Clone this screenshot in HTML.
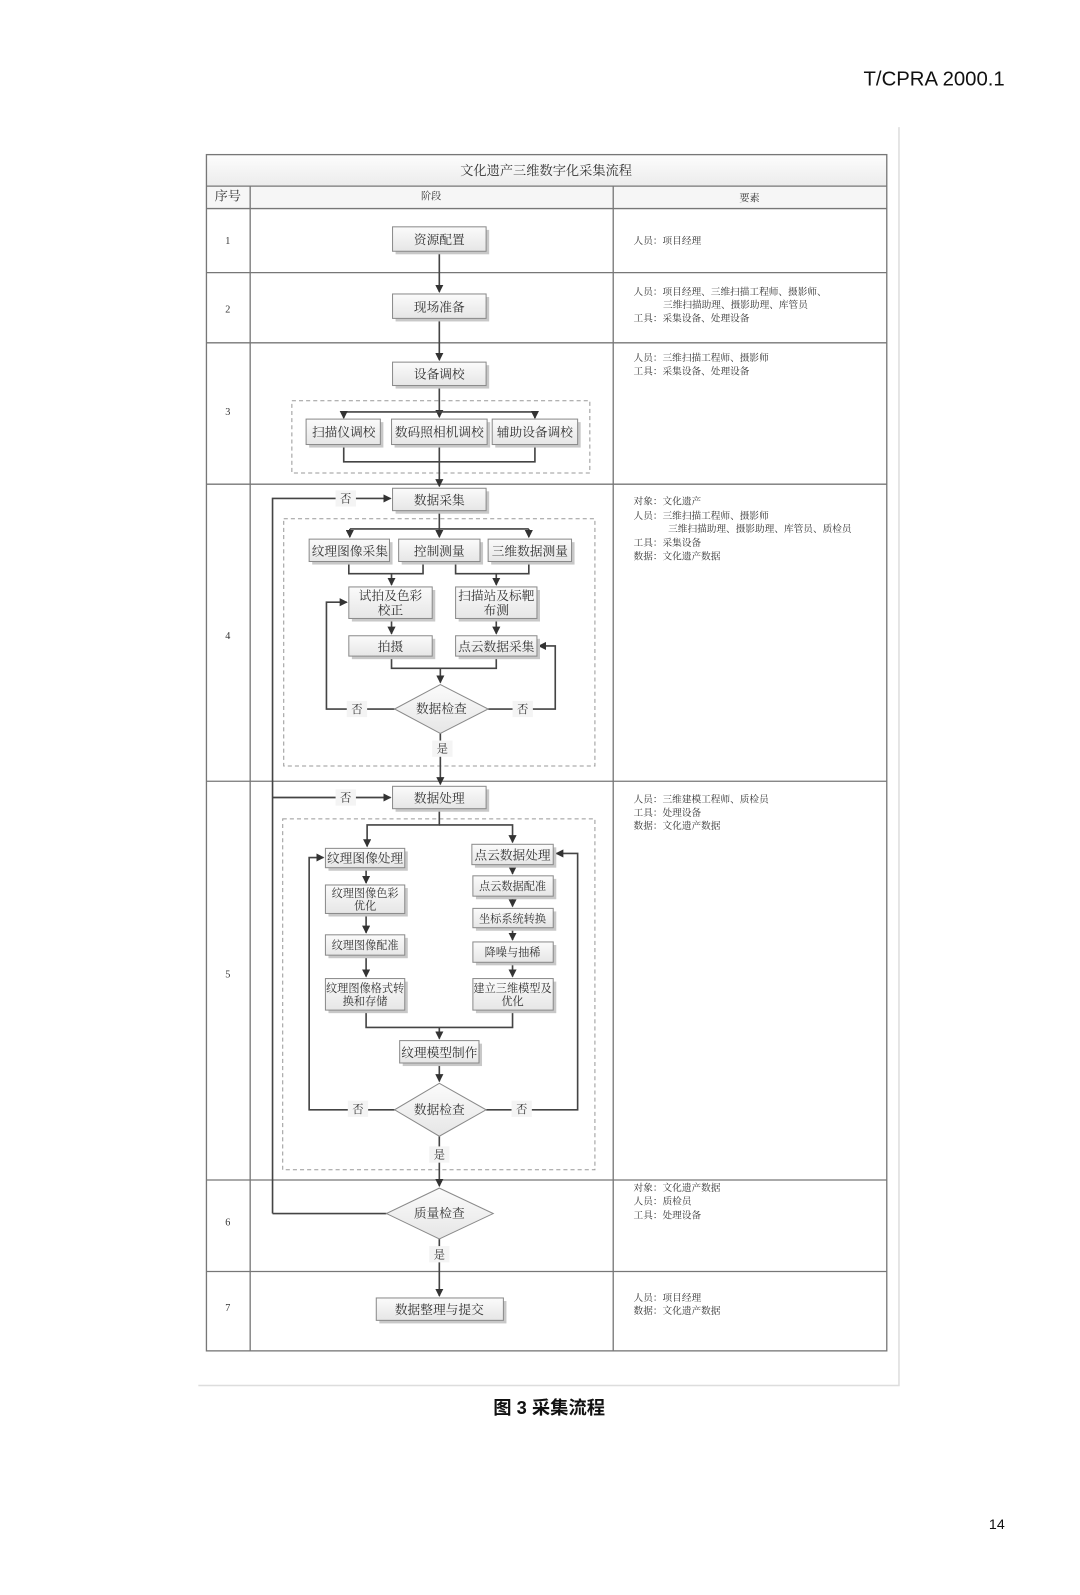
<!DOCTYPE html>
<html><head><meta charset="utf-8"><style>
html,body{margin:0;padding:0;background:#fff;}
svg{display:block;}
text{font-family:"Liberation Serif","Noto Serif CJK SC",serif;fill:#333;}
.b{fill:url(#g);stroke:#8a8a8a;stroke-width:1;}
.sh{fill:#c8c8c8;}
.l{stroke:#444;stroke-width:1.6;fill:none;}
.t{stroke:#777;stroke-width:1.3;fill:none;}
.d{stroke:#999;stroke-width:1;fill:none;stroke-dasharray:4,3;}
.bt{font-size:12.5px;text-anchor:middle;}
.st{font-size:11px;text-anchor:middle;}
.r{font-size:9.5px;fill:#555;}
.lab{fill:#f4f4f4;}
</style></head><body>
<svg width="1080" height="1595" viewBox="0 0 1062 1568" preserveAspectRatio="none" xmlns="http://www.w3.org/2000/svg">
<defs>
<linearGradient id="g" x1="0" y1="0" x2="0" y2="1"><stop offset="0" stop-color="#fbfbfb"/><stop offset="1" stop-color="#e6e6e6"/></linearGradient>
<linearGradient id="hg" x1="0" y1="0" x2="0" y2="1"><stop offset="0" stop-color="#fdfdfd"/><stop offset="1" stop-color="#ececec"/></linearGradient>
<marker id="a" markerWidth="8" markerHeight="8" refX="7" refY="4" orient="auto" markerUnits="userSpaceOnUse"><path d="M0,0 L8,4 L0,8 z" fill="#333"/></marker>
</defs>
<rect width="1062" height="1568" fill="#fff"/>
<text x="988" y="84" text-anchor="end" style="font-family:'Liberation Sans',sans-serif;font-size:20px;fill:#111">T/CPRA 2000.1</text>
<!-- frame -->
<path d="M884 125 V1362 H195" stroke="#ddd" stroke-width="1.5" fill="none"/>
<!-- table -->
<rect x="203" y="152" width="669" height="31" fill="url(#hg)"/>
<rect x="203" y="183" width="669" height="22" fill="#f6f6f6"/>
<rect x="203" y="152" width="669" height="1176" class="t"/>
<path class="t" d="M203 183 H872 M203 205 H872 M203 268 H872 M203 337 H872 M203 476 H872 M203 768 H872 M203 1160 H872 M203 1250 H872 M246 183 V1328 M603 183 V1328"/>
<text x="537" y="172" style="font-size:13px" text-anchor="middle">文化遗产三维数字化采集流程</text>
<text x="224" y="197" style="font-size:13px" text-anchor="middle">序号</text>
<text x="424" y="196" style="font-size:10px" text-anchor="middle">阶段</text>
<text x="737" y="198" style="font-size:10px" text-anchor="middle">要素</text>
<g style="font-size:10px" text-anchor="middle">
<text x="224" y="240">1</text><text x="224" y="307">2</text><text x="224" y="408">3</text><text x="224" y="628">4</text><text x="224" y="961">5</text><text x="224" y="1205">6</text><text x="224" y="1289">7</text>
</g>
<!-- right column -->
<g class="r">
<text x="623" y="240">人员：项目经理</text>
<text x="623" y="290">人员：项目经理、三维扫描工程师、摄影师、</text>
<text x="652" y="303">三维扫描助理、摄影助理、库管员</text>
<text x="623" y="316">工具：采集设备、处理设备</text>
<text x="623" y="355">人员：三维扫描工程师、摄影师</text>
<text x="623" y="368">工具：采集设备、处理设备</text>
<text x="623" y="496">对象：文化遗产</text>
<text x="623" y="510">人员：三维扫描工程师、摄影师</text>
<text x="657" y="523">三维扫描助理、摄影助理、库管员、质检员</text>
<text x="623" y="537">工具：采集设备</text>
<text x="623" y="550">数据：文化遗产数据</text>
<text x="623" y="789">人员：三维建模工程师、质检员</text>
<text x="623" y="802">工具：处理设备</text>
<text x="623" y="815">数据：文化遗产数据</text>
<text x="623" y="1171">对象：文化遗产数据</text>
<text x="623" y="1184">人员：质检员</text>
<text x="623" y="1198">工具：处理设备</text>
<text x="623" y="1279">人员：项目经理</text>
<text x="623" y="1292">数据：文化遗产数据</text>
</g>
<!-- dashed groups -->
<rect class="d" x="287" y="394" width="293" height="71"/>
<rect class="d" x="279" y="510" width="306" height="243"/>
<rect class="d" x="278" y="805" width="307" height="345"/>
<!-- connectors -->
<g class="l">
<path d="M432 247 V287" marker-end="url(#a)"/>
<path d="M432 313 V354" marker-end="url(#a)"/>
<path d="M432 379 V410" marker-end="url(#a)"/>
<path d="M338 405 H526 M338 405 V410 M526 405 V410"/>
<path d="M338 405 V411" marker-end="url(#a)"/><path d="M526 405 V411" marker-end="url(#a)"/>
<path d="M338 437 V454 H526 V437 M432 437 V478" marker-end="url(#a)"/>
<path d="M432 502 V528" marker-end="url(#a)"/>
<path d="M344 520 H520 M344 520 V528" marker-end="url(#a)"/><path d="M520 520 V528" marker-end="url(#a)"/>
<path d="M343 552 V564 H416 V552 M385 564 V575" marker-end="url(#a)"/>
<path d="M448 552 V564 H520 V552 M488 564 V575" marker-end="url(#a)"/>
<path d="M385 608 V623" marker-end="url(#a)"/>
<path d="M488 608 V623" marker-end="url(#a)"/>
<path d="M385 645 V657 H488 V645 M433 657 V671" marker-end="url(#a)"/>
<path d="M388 697 H321 V592 H341" marker-end="url(#a)"/>
<path d="M480 697 H546 V635 H530" marker-end="url(#a)"/>
<path d="M433 721 V771" marker-end="url(#a)"/>
<path d="M268 1193 V490 H384" marker-end="url(#a)"/>
<path d="M268 784 H384" marker-end="url(#a)"/>
<path d="M432 795 V811 H361 V832" marker-end="url(#a)"/>
<path d="M432 811 H504 V828" marker-end="url(#a)"/>
<path d="M360 853 V868" marker-end="url(#a)"/>
<path d="M360 898 V917" marker-end="url(#a)"/>
<path d="M360 939 V960" marker-end="url(#a)"/>
<path d="M504 850 V859" marker-end="url(#a)"/>
<path d="M504 881 V891" marker-end="url(#a)"/>
<path d="M504 912 V924" marker-end="url(#a)"/>
<path d="M504 946 V960" marker-end="url(#a)"/>
<path d="M360 993 V1010 H504 V993 M432 1010 V1021" marker-end="url(#a)"/>
<path d="M432 1045 V1063" marker-end="url(#a)"/>
<path d="M388 1091 H304 V843 H318" marker-end="url(#a)"/>
<path d="M478 1091 H568 V839 H547" marker-end="url(#a)"/>
<path d="M432 1117 V1166" marker-end="url(#a)"/>
<path d="M380 1193 H268"/>
<path d="M432 1218 V1274" marker-end="url(#a)"/>
</g>
<!-- labels 否/是 -->
<g style="font-size:11px" text-anchor="middle">
<rect class="lab" x="330" y="482" width="20" height="16"/><text x="340" y="494">否</text>
<rect class="lab" x="330" y="776" width="20" height="16"/><text x="340" y="788">否</text>
<rect class="lab" x="341" y="689" width="20" height="16"/><text x="351" y="701">否</text>
<rect class="lab" x="504" y="689" width="20" height="16"/><text x="514" y="701">否</text>
<rect class="lab" x="425" y="728" width="20" height="16"/><text x="435" y="740">是</text>
<rect class="lab" x="342" y="1082" width="20" height="16"/><text x="352" y="1094">否</text>
<rect class="lab" x="503" y="1082" width="20" height="16"/><text x="513" y="1094">否</text>
<rect class="lab" x="422" y="1127" width="20" height="16"/><text x="432" y="1139">是</text>
<rect class="lab" x="422" y="1225" width="20" height="16"/><text x="432" y="1237">是</text>
</g>
<!-- boxes -->
<g>
<rect class="sh" x="389" y="226" width="92" height="24"/><rect class="b" x="386" y="223" width="92" height="24"/><text class="bt" x="432" y="240">资源配置</text>
<rect class="sh" x="389" y="292" width="92" height="24"/><rect class="b" x="386" y="289" width="92" height="24"/><text class="bt" x="432" y="306">现场准备</text>
<rect class="sh" x="389" y="359" width="92" height="23"/><rect class="b" x="386" y="356" width="92" height="23"/><text class="bt" x="432" y="372">设备调校</text>
<rect class="sh" x="304" y="415" width="73" height="25"/><rect class="b" x="301" y="412" width="73" height="25"/><text class="bt" x="338" y="429">扫描仪调校</text>
<rect class="sh" x="388" y="415" width="94" height="25"/><rect class="b" x="385" y="412" width="94" height="25"/><text class="bt" x="432" y="429">数码照相机调校</text>
<rect class="sh" x="487" y="415" width="84" height="25"/><rect class="b" x="484" y="412" width="84" height="25"/><text class="bt" x="526" y="429">辅助设备调校</text>
<rect class="sh" x="389" y="483" width="92" height="22"/><rect class="b" x="386" y="480" width="92" height="22"/><text class="bt" x="432" y="496">数据采集</text>
<rect class="sh" x="307" y="533" width="79" height="22"/><rect class="b" x="304" y="530" width="79" height="22"/><text class="bt" x="344" y="546">纹理图像采集</text>
<rect class="sh" x="395" y="533" width="80" height="22"/><rect class="b" x="392" y="530" width="80" height="22"/><text class="bt" x="432" y="546">控制测量</text>
<rect class="sh" x="483" y="533" width="82" height="22"/><rect class="b" x="480" y="530" width="82" height="22"/><text class="bt" x="521" y="546">三维数据测量</text>
<rect class="sh" x="346" y="580" width="82" height="31"/><rect class="b" x="343" y="577" width="82" height="31"/><text class="bt" x="384" y="590">试拍及色彩</text><text class="bt" x="384" y="604">校正</text>
<rect class="sh" x="451" y="580" width="80" height="31"/><rect class="b" x="448" y="577" width="80" height="31"/><text class="bt" x="488" y="590">扫描站及标靶</text><text class="bt" x="488" y="604">布测</text>
<rect class="sh" x="346" y="628" width="82" height="20"/><rect class="b" x="343" y="625" width="82" height="20"/><text class="bt" x="384" y="640">拍摄</text>
<rect class="sh" x="451" y="628" width="80" height="20"/><rect class="b" x="448" y="625" width="80" height="20"/><text class="bt" x="488" y="640">点云数据采集</text>
<polygon points="433,673 480,697 433,721 388,697" fill="url(#g)" stroke="#8a8a8a"/><text class="bt" x="434" y="701">数据检查</text>
<rect class="sh" x="389" y="776" width="92" height="22"/><rect class="b" x="386" y="773" width="92" height="22"/><text class="bt" x="432" y="789">数据处理</text>
<rect class="sh" x="323" y="837" width="78" height="19"/><rect class="b" x="320" y="834" width="78" height="19"/><text class="bt" x="359" y="848">纹理图像处理</text>
<rect class="sh" x="467" y="833" width="80" height="20"/><rect class="b" x="464" y="830" width="80" height="20"/><text class="bt" x="504" y="845">点云数据处理</text>
<rect class="sh" x="323" y="873" width="78" height="28"/><rect class="b" x="320" y="870" width="78" height="28"/><text class="st" x="359" y="882">纹理图像色彩</text><text class="st" x="359" y="894">优化</text>
<rect class="sh" x="323" y="922" width="78" height="20"/><rect class="b" x="320" y="919" width="78" height="20"/><text class="st" x="359" y="933">纹理图像配准</text>
<rect class="sh" x="323" y="965" width="78" height="31"/><rect class="b" x="320" y="962" width="78" height="31"/><text class="st" x="359" y="975">纹理图像格式转</text><text class="st" x="359" y="988">换和存储</text>
<rect class="sh" x="468" y="864" width="79" height="20"/><rect class="b" x="465" y="861" width="79" height="20"/><text class="st" x="504" y="875">点云数据配准</text>
<rect class="sh" x="468" y="896" width="79" height="19"/><rect class="b" x="465" y="893" width="79" height="19"/><text class="st" x="504" y="907">坐标系统转换</text>
<rect class="sh" x="468" y="929" width="79" height="20"/><rect class="b" x="465" y="926" width="79" height="20"/><text class="st" x="504" y="940">降噪与抽稀</text>
<rect class="sh" x="468" y="965" width="79" height="31"/><rect class="b" x="465" y="962" width="79" height="31"/><text class="st" x="504" y="975">建立三维模型及</text><text class="st" x="504" y="988">优化</text>
<rect class="sh" x="396" y="1026" width="78" height="22"/><rect class="b" x="393" y="1023" width="78" height="22"/><text class="bt" x="432" y="1039">纹理模型制作</text>
<polygon points="432,1065 478,1091 432,1117 388,1091" fill="url(#g)" stroke="#8a8a8a"/><text class="bt" x="432" y="1095">数据检查</text>
<polygon points="432,1168 485,1193 432,1218 380,1193" fill="url(#g)" stroke="#8a8a8a"/><text class="bt" x="432" y="1197">质量检查</text>
<rect class="sh" x="373" y="1279" width="125" height="22"/><rect class="b" x="370" y="1276" width="125" height="22"/><text class="bt" x="432" y="1292">数据整理与提交</text>
</g>
<text x="540" y="1390" text-anchor="middle" style="font-family:'Liberation Sans','Noto Sans CJK SC',sans-serif;font-size:18px;font-weight:bold;fill:#111">图 3  采集流程</text>
<text x="988" y="1503" text-anchor="end" style="font-family:'Liberation Sans',sans-serif;font-size:14px;fill:#111">14</text>
</svg>
</body></html>
